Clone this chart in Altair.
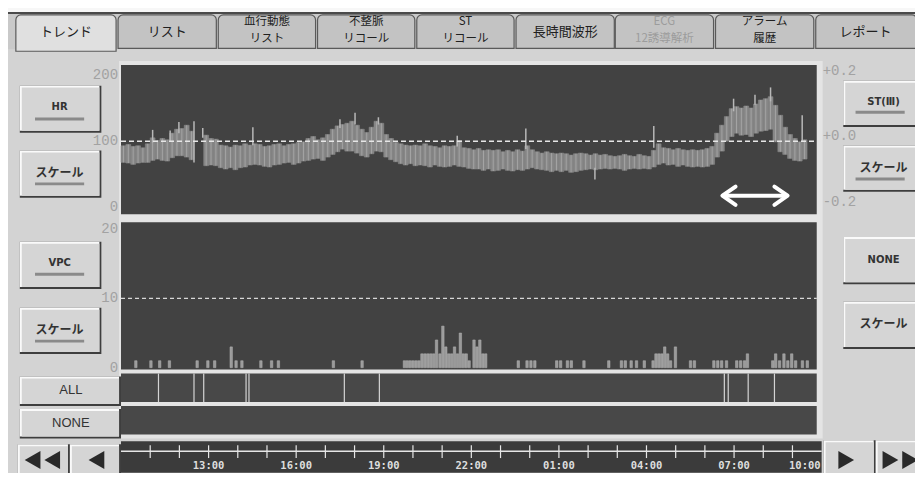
import altair as alt
import pandas as pd

# ---------------- chart values ----------------
# HR trend, 10-minute bins starting at 10:00 (low / high edge of the band, bpm)
HR_HI = [93, 95, 92, 93, 90, 96, 105, 101, 104, 102,
         112, 118, 119, 124, 115, None, None, 109, 104, 103,
         94, 93, 91, 94, 93, 96, 94, 96, 95, 92,
         93, 95, 96, 93, 95, 96, 98, 99, 104, 107,
         102, 105, 110, 118, 123, 125, 127, 130, 124, 118,
         113, 121, 130, 127, 110, 104, 98, 96, 94, 93,
         94, 93, 96, 93, 92, 90, 93, 92, 93, 101,
         90, 89, 87, 89, 86, 87, 86, 87, 84, 86,
         84, 87, 85, 93, 87, 84, 82, 84, 82, 81,
         82, 81, 79, 81, 82, 81, 79, 81, 79, 80,
         78, 77, 78, 80, 78, 77, 80, 78, 77, 86,
         96, 90, 89, 87, 89, 87, 86, 87, 86, 87,
         89, 92, 112, 124, 137, 149, 152, 150, 153, 150,
         156, 162, 164, 167, 154, 139, 121, 110, 104, 99,
         102]
HR_LO = [68, 67, 65, 67, 68, 68, 71, 73, 71, 70,
         75, 78, 78, 76, 72, None, None, 63, 64, 63,
         60, 58, 60, 57, 60, 61, 64, 65, 64, 62,
         61, 64, 65, 67, 68, 65, 67, 70, 71, 73,
         74, 71, 76, 80, 84, 88, 85, 85, 82, 78,
         76, 81, 85, 84, 76, 72, 69, 66, 64, 66,
         63, 64, 63, 61, 64, 62, 61, 62, 64, 62,
         61, 59, 58, 58, 56, 58, 55, 56, 58, 56,
         55, 57, 56, 58, 60, 58, 57, 56, 54, 56,
         54, 56, 53, 54, 56, 57, 58, 57, 58, 59,
         58, 59, 58, 56, 58, 59, 58, 59, 58, 61,
         65, 67, 64, 65, 62, 64, 62, 61, 62, 61,
         62, 65, 76, 85, 100, 107, 112, 109, 110, 107,
         112, 115, 116, 118, 99, 84, 80, 74, 71, 70,
         73]
BIN_MIN = 10

# isolated spikes of the HR trace
SPIKE_T = ["11:05", "11:41", "11:59", "12:30", "12:48", "14:31", "17:30", "18:01",
           "18:49", "21:31", "23:52", "02:14", "04:15", "06:59", "07:43", "08:15", "09:20"]
SPIKE_LO = [98, 100, 112, 68, 105, 94, 120, 125, 125, 92, 88, 42, 90, 145, 155, 160, 100]
SPIKE_HI = [117, 116, 129, 130, 120, 121, 133, 143, 136, 108, 119, 60, 123, 164, 170, 181, 139]

# VPC counts
VPC_T = ["10:28", "10:59", "11:17", "11:37", "12:34", "12:56", "13:10", "13:44", "13:54", "14:06",
         "14:45", "15:07", "15:21", "17:14", "18:13",
         "19:40", "19:46", "19:52", "19:58", "20:04", "20:10", "20:16", "20:22", "20:28", "20:34",
         "20:40", "20:46", "20:53", "20:59", "21:05", "21:11", "21:17", "21:23", "21:29", "21:35",
         "21:41", "21:47", "21:53", "22:03", "22:09", "22:15", "22:21", "22:27",
         "23:34", "23:52", "00:00", "00:08", "00:53", "01:01", "01:15", "01:23", "01:49", "02:40",
         "03:06", "03:14", "03:26", "03:37", "03:53",
         "04:11", "04:17", "04:23", "04:29", "04:35", "04:41", "04:47", "04:57",
         "05:28", "05:36", "06:16", "06:24", "06:32", "06:42", "07:03", "07:11", "07:19", "07:25",
         "08:17", "08:23", "08:31", "08:40", "08:48", "08:56", "09:04", "09:18", "09:28"]
VPC_N = [1, 1, 1, 1, 1, 1, 1, 3, 1, 1,
         1, 1, 1, 1, 1,
         1, 1, 1, 1, 1, 1, 2, 2, 2, 2,
         2, 4, 2, 6, 3, 2, 2, 3, 2, 5,
         2, 2, 1, 4, 3, 4, 2, 2,
         1, 1, 1, 1, 1, 1, 1, 1, 1, 1,
         1, 1, 1, 1, 1,
         1, 2, 2, 2, 3, 2, 1, 3,
         1, 1, 1, 1, 1, 1, 1, 1, 1, 2,
         1, 2, 1, 2, 1, 2, 1, 1, 1]

# event marks in the "ALL" strip
EVENT_T = ["11:17", "12:30", "12:50", "14:17", "14:23", "17:39", "18:51",
           "06:40", "06:48", "07:29", "08:23"]

# annotation arrow (start / end time)
ARROW_T = ["06:36", "08:50"]

TIME_LABELS = ["13:00", "16:00", "19:00", "22:00", "01:00", "04:00", "07:00", "10:00"]
HR_TICKS = [200, 100, 0]
VPC_TICKS = [20, 10, 0]
ST_TICKS = [0.2, 0.0, -0.2]
ST_TICK_TEXT = ["+0.2", "+0.0", "-0.2"]
HR_REF = 100
VPC_REF = 10

TAB_LABELS = [["トレンド"], ["リスト"], ["血行動態", "リスト"], ["不整脈", "リコール"],
              ["ST", "リコール"], ["長時間波形"], ["ECG", "12誘導解析"], ["アラーム", "履歴"], ["レポート"]]
LEFT_BUTTONS = ["HR", "スケール", "VPC", "スケール", "ALL", "NONE"]
RIGHT_BUTTONS = ["ST(Ⅲ)", "スケール", "NONE", "スケール"]

# ---------------- layout ----------------
W, H = 907, 465
S = W / 923.0


def PX(x):
    return round(x * S, 2)


def PY(y):
    return round((y - 8) * S, 2)


def tmin(s):
    h, m = map(int, s.split(":"))
    v = h * 60 + m - 600
    return v + 1440 if v < 0 else v


XS = alt.Scale(domain=[0, 1440], range=[PX(115), PX(828)], nice=False, zero=False)
YHR = alt.Scale(domain=[0, 200], range=[PY(211), PY(76)], nice=False, zero=False)
YST = alt.Scale(domain=[-0.2, 0.2], range=[PY(205), PY(72)], nice=False, zero=False)
YV = alt.Scale(domain=[0, 20], range=[PY(374), PY(233)], nice=False, zero=False)

layers = []

# ---- chrome rectangles ----
rects = []


def R(x1, y1, x2, y2, c):
    rects.append(dict(x=PX(x1), x2=PX(x2), y=PY(y1), y2=PY(y2), c=c))


R(0, 0, 923, 12, "#f7f7f7")
R(0, 12, 923, 14, "#4a4a4a")
R(0, 14, 923, 50, "#c9c9c9")
R(113, 62, 829, 446, "#e4e4e4")
R(115, 66, 823, 218, "#424242")
R(115, 226, 823, 376, "#424242")
R(115, 380, 823, 409, "#484848")
R(115, 413, 823, 442, "#484848")
R(115, 449, 828, 481, "#3b3b3b")


def button(x1, y1, x2, y2):
    R(x1, y1, x2 + 2, y2 + 2, "#3e3e3e")
    R(x1, y1, x2, y2, "#fafafa")
    R(x1 + 2, y1 + 2, x2, y2, "#d5d5d5")


LB = [(12, 87, 93, 133), (12, 153, 93, 199), (12, 246, 93, 292), (12, 313, 93, 358),
      (12, 383, 113, 411), (12, 416, 113, 444)]
LB_TY = [109, 176, 268, 336, 397, 430]
LB_UY = [121, 187, 279, 347, None, None]
RB = [(850, 82, 925, 127), (850, 148, 925, 193), (850, 241, 925, 287), (850, 307, 925, 353)]
RB_TY = [104, 171, 264, 330]
RB_UY = [114, 182, None, None]
NAV = [(10, 452, 61, 483), (63, 452, 113, 483), (830, 448, 881, 483), (883, 448, 925, 483)]

for b in LB + RB + NAV:
    button(*b)
for b, uy in zip(LB + RB, LB_UY + RB_UY):
    if uy is not None:
        cx = (b[0] + b[2]) / 2
        R(cx - 25, uy - 1.5, cx + 25, uy + 1.5, "#8a8a8a")

layers.append(
    alt.Chart(pd.DataFrame(rects)).mark_rect().encode(
        x=alt.X("x:Q", scale=None, axis=None), x2="x2:Q",
        y=alt.Y("y:Q", scale=None, axis=None), y2="y2:Q",
        color=alt.Color("c:N", scale=None, legend=None))
)

# ---- tabs ----
TAB_X = [(8, 110), (112, 212), (214, 313), (315, 414), (416, 515), (517, 617),
         (618, 718), (720, 820), (822, 925)]
tabs = []
for i, (a, b) in enumerate(TAB_X):
    sel = i == 0
    tabs.append(dict(x=PX(a), x2=PX(b), y=PY(15), y2=PY(52 if sel else 49),
                     c="#e0e0e0" if sel else "#c3c3c3"))
layers.append(
    alt.Chart(pd.DataFrame(tabs)).mark_rect(
        stroke="#5a5a5a", strokeWidth=1.2, cornerRadiusTopLeft=5, cornerRadiusTopRight=5
    ).encode(
        x=alt.X("x:Q", scale=None, axis=None), x2="x2:Q",
        y=alt.Y("y:Q", scale=None, axis=None), y2="y2:Q",
        color=alt.Color("c:N", scale=None, legend=None))
)
tab1, tab2 = [], []
for i, ((a, b), lines) in enumerate(zip(TAB_X, TAB_LABELS)):
    cx = (a + min(b, 923)) / 2
    c = "#9c9c9c" if i == 6 else "#202020"
    if len(lines) == 1:
        tab1.append(dict(x=PX(cx), y=PY(32), t=lines[0], c=c))
    else:
        for t, yy in zip(lines, [22, 40]):
            tab2.append(dict(x=PX(cx), y=PY(yy), t=t, c=c))
for dat, fs in [(tab1, 13), (tab2, 11.5)]:
    layers.append(
        alt.Chart(pd.DataFrame(dat)).mark_text(
            font="Noto Sans CJK JP", fontSize=fs, baseline="middle", align="center"
        ).encode(
            x=alt.X("x:Q", scale=None, axis=None), y=alt.Y("y:Q", scale=None, axis=None),
            text="t:N", color=alt.Color("c:N", scale=None, legend=None))
    )

# ---- button labels ----
btn_small, btn_kana, btn_plain = [], [], []
for b, t, yy in zip(LB + RB, LEFT_BUTTONS + RIGHT_BUTTONS, LB_TY + RB_TY):
    cx = (b[0] + min(b[2], 923)) / 2 if b[0] < 800 else 891
    if b[2] > 100 and b[0] < 800:
        cx = 64
    row = dict(x=PX(cx), y=PY(yy), t=t)
    if t == "スケール":
        btn_kana.append(row)
    elif t in ("ALL",) or (t == "NONE" and b[0] < 800):
        btn_plain.append(row)
    else:
        btn_small.append(row)
for dat, kw in [(btn_small, dict(font="DejaVu Sans", fontSize=10, fontWeight="bold")),
                (btn_kana, dict(font="Noto Sans CJK JP", fontSize=12, fontWeight="bold")),
                (btn_plain, dict(font="Liberation Sans", fontSize=13))]:
    layers.append(
        alt.Chart(pd.DataFrame(dat)).mark_text(color="#333333", baseline="middle", align="center", **kw)
        .encode(x=alt.X("x:Q", scale=None, axis=None), y=alt.Y("y:Q", scale=None, axis=None), text="t:N")
    )

# nav triangles
tri = pd.DataFrame(dict(x=[PX(25), PX(45), PX(90), PX(853), PX(898), PX(918)],
                        y=[PY(468)] * 6,
                        s=["triangle-left"] * 3 + ["triangle-right"] * 3))
layers.append(
    alt.Chart(tri).mark_point(filled=True, color="#2a2a2a", size=330, opacity=1).encode(
        x=alt.X("x:Q", scale=None, axis=None), y=alt.Y("y:Q", scale=None, axis=None),
        shape=alt.Shape("s:N", scale=None, legend=None))
)

# ---- axis labels (through the value scales) ----
lab_kw = dict(font="Liberation Mono", fontSize=14, color="#a2a2a2", baseline="middle")
layers.append(
    alt.Chart(pd.DataFrame(dict(v=HR_TICKS, t=[str(v) for v in HR_TICKS])))
    .mark_text(align="right", **lab_kw)
    .encode(x=alt.value(PX(112)), y=alt.Y("v:Q", scale=YHR, axis=None), text="t:N")
)
layers.append(
    alt.Chart(pd.DataFrame(dict(v=VPC_TICKS, t=[str(v) for v in VPC_TICKS])))
    .mark_text(align="right", **lab_kw)
    .encode(x=alt.value(PX(112)), y=alt.Y("v:Q", scale=YV, axis=None), text="t:N")
)
layers.append(
    alt.Chart(pd.DataFrame(dict(v=ST_TICKS, t=ST_TICK_TEXT)))
    .mark_text(align="left", **lab_kw)
    .encode(x=alt.value(PX(829)), y=alt.Y("v:Q", scale=YST, axis=None), text="t:N")
)

# ---- HR trend ----
hr = pd.DataFrame(dict(t0=[i * BIN_MIN for i in range(len(HR_HI))], lo=HR_LO, hi=HR_HI)).dropna()
hr["t1"] = hr["t0"] + BIN_MIN
hr["tm"] = hr["t0"] + BIN_MIN / 2
layers.append(
    alt.Chart(hr).mark_rect(color="#868686", stroke="#868686", strokeWidth=0.6).encode(
        x=alt.X("t0:Q", scale=XS, axis=None), x2="t1:Q",
        y=alt.Y("lo:Q", scale=YHR, axis=None), y2="hi:Q")
)
layers.append(
    alt.Chart(hr).mark_rule(color="#a4a4a4", strokeWidth=1).encode(
        x=alt.X("tm:Q", scale=XS, axis=None),
        y=alt.Y("lo:Q", scale=YHR, axis=None), y2="hi:Q")
)
sp = pd.DataFrame(dict(t=[tmin(s) for s in SPIKE_T], lo=SPIKE_LO, hi=SPIKE_HI))
layers.append(
    alt.Chart(sp).mark_rule(color="#b8b8b8", strokeWidth=1.5).encode(
        x=alt.X("t:Q", scale=XS, axis=None),
        y=alt.Y("lo:Q", scale=YHR, axis=None), y2="hi:Q")
)

# ---- reference dashed lines ----
layers.append(
    alt.Chart(pd.DataFrame(dict(v=[HR_REF]))).mark_rule(color="#e6e6e6", strokeDash=[5, 3], strokeWidth=1.5)
    .encode(x=alt.value(PX(115)), x2=alt.value(PX(823)), y=alt.Y("v:Q", scale=YHR, axis=None))
)
layers.append(
    alt.Chart(pd.DataFrame(dict(v=[VPC_REF]))).mark_rule(color="#d8d8d8", strokeDash=[4, 3], strokeWidth=1.2)
    .encode(x=alt.value(PX(115)), x2=alt.value(PX(823)), y=alt.Y("v:Q", scale=YV, axis=None))
)

# ---- VPC bars ----
vp = pd.DataFrame(dict(t=[tmin(s) for s in VPC_T], n=VPC_N))
vp["t1"] = vp["t"] + 5
vp["z"] = 0
layers.append(
    alt.Chart(vp).mark_rect(color="#9a9a9a", stroke="#b4b4b4", strokeWidth=0.5).encode(
        x=alt.X("t:Q", scale=XS, axis=None), x2="t1:Q",
        y=alt.Y("z:Q", scale=YV, axis=None), y2="n:Q")
)

# ---- events ----
ev = pd.DataFrame(dict(t=[tmin(s) for s in EVENT_T]))
layers.append(
    alt.Chart(ev).mark_rule(color="#d4d4d4", strokeWidth=1.2).encode(
        x=alt.X("t:Q", scale=XS, axis=None), y=alt.value(PY(380)), y2=alt.value(PY(409)))
)

# ---- arrow annotation ----
ar = pd.DataFrame(dict(a=[tmin(ARROW_T[0]) + 2], b=[tmin(ARROW_T[1]) - 2]))
layers.append(
    alt.Chart(ar).mark_rule(color="white", strokeWidth=4).encode(
        x=alt.X("a:Q", scale=XS, axis=None), x2="b:Q", y=alt.value(PY(199)))
)
for t, path in [(ARROW_T[0], "M1.45,-1L0,0L1.45,1"), (ARROW_T[1], "M-1.45,-1L0,0L-1.45,1")]:
    layers.append(
        alt.Chart(pd.DataFrame(dict(t=[tmin(t)]))).mark_point(
            shape=path, size=330, strokeWidth=4, color="white", filled=False, opacity=1,
            strokeJoin="round", strokeCap="round")
        .encode(x=alt.X("t:Q", scale=XS, axis=None), y=alt.value(PY(199)))
    )

# ---- time axis ----
layers.append(
    alt.Chart(pd.DataFrame(dict(a=[0], b=[1440]))).mark_rule(color="#e6e6e6", strokeWidth=1.5).encode(
        x=alt.X("a:Q", scale=XS, axis=None), x2="b:Q", y=alt.value(PY(459)))
)
layers.append(
    alt.Chart(pd.DataFrame(dict(t=list(range(60, 1440, 60))))).mark_rule(color="#e6e6e6", strokeWidth=1.2)
    .encode(x=alt.X("t:Q", scale=XS, axis=None), y=alt.value(PY(453)), y2=alt.value(PY(466)))
)
tl = pd.DataFrame(dict(t=[tmin(s) or 1440 for s in TIME_LABELS], s=TIME_LABELS))
tkw = dict(font="DejaVu Sans Mono", fontSize=10.5, fontWeight="bold", color="#dedede", baseline="middle")
layers.append(
    alt.Chart(tl.iloc[:-1]).mark_text(align="center", **tkw).encode(
        x=alt.X("t:Q", scale=XS, axis=None), y=alt.value(PY(474)), text="s:N")
)
layers.append(
    alt.Chart(tl.iloc[-1:]).mark_text(align="right", dx=-1, **tkw).encode(
        x=alt.X("t:Q", scale=XS, axis=None), y=alt.value(PY(474)), text="s:N")
)

chart = (
    alt.layer(*layers)
    .resolve_scale(x="independent", y="independent", color="independent", shape="independent")
    .properties(width=W, height=H, padding=0, autosize=alt.AutoSizeParams(type="none"),
                background="#d3d3d3")
    .configure_view(stroke=None)
)

chart.save("out.html", embed_options={"renderer": "svg", "actions": False})
